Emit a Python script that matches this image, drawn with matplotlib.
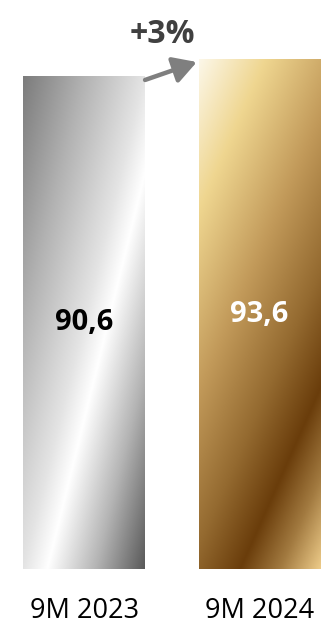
import numpy as np
import matplotlib
matplotlib.use("Agg")
import matplotlib.pyplot as plt
from matplotlib.colors import LinearSegmentedColormap
from matplotlib.patches import FancyArrowPatch

# ---- data ----
categories = ["9M 2023", "9M 2024"]
values = [90.6, 93.6]
value_labels = ["90,6", "93,6"]
change_label = "+3%"

# ---- styles ----
silver_stops = [(0.0, "#7c7c7c"), (0.25, "#b2b2b2"), (0.5, "#e4e4e4"),
                (0.6, "#ffffff"), (0.8, "#b4b4b4"), (1.0, "#5a5a5a")]
gold_stops = [(0.0, "#fcf7e8"), (0.19, "#efd690"), (0.42, "#c29a5a"),
              (0.62, "#946a30"), (0.77, "#6a3d0b"), (0.885, "#a27a40"),
              (1.0, "#ecca88")]
alphas = [0.5, 0.35]
label_colors = ["black", "white"]
FONT = "Open Sans"

fig = plt.figure(figsize=(3.21, 6.26), dpi=100)
bottom = 57 / 626
ax = fig.add_axes([0, bottom, 1, 1 - bottom])
XLIM = (-0.479, 1.350)
YLIM = (0, 104.6)
for s in ax.spines.values():
    s.set_visible(False)
ax.set_yticks([])

width = 0.695
x = np.arange(len(categories))
cmaps = [LinearSegmentedColormap.from_list("silver", silver_stops),
         LinearSegmentedColormap.from_list("gold", gold_stops)]

bars = ax.bar(x, values, width=width, color="none", edgecolor="none")
n_r, n_c = 600, 200
u = np.linspace(0, 1, n_c)[None, :]
v = np.linspace(0, 1, n_r)[:, None]
for i, b in enumerate(bars):
    a = alphas[i]
    t = a * u + (1 - a) * v
    x0, y0 = b.get_x(), b.get_y()
    ax.imshow(t, cmap=cmaps[i], vmin=0, vmax=1, origin="upper", aspect="auto",
              extent=(x0, x0 + b.get_width(), y0, y0 + b.get_height()),
              interpolation="bilinear", zorder=1)
    ax.text(x[i], values[i] / 2, value_labels[i], ha="center", va="center",
            fontsize=21, fontweight="bold", color=label_colors[i],
            family=FONT, zorder=3)

ax.set_xlim(*XLIM)
ax.set_ylim(*YLIM)

# arrow between bars
arr = FancyArrowPatch((x[0] + width / 2, values[0] - 0.7),
                      (x[1] - width / 2 - 0.01, values[1] - 0.4),
                      arrowstyle="-|>,head_length=14,head_width=8",
                      mutation_scale=1, lw=3.2, color="#7f7f7f",
                      shrinkA=0, shrinkB=0, zorder=3)
ax.add_patch(arr)
ax.text(0.444, 98.2, change_label, ha="center", va="center", fontsize=23,
        fontweight="bold", color="#404040", family=FONT)

ax.set_xticks(x)
ax.set_xticklabels(categories, fontsize=19.5, family=FONT, color="black")
ax.tick_params(axis="x", length=0, pad=20)

fig.savefig("out.png", dpi=100)
